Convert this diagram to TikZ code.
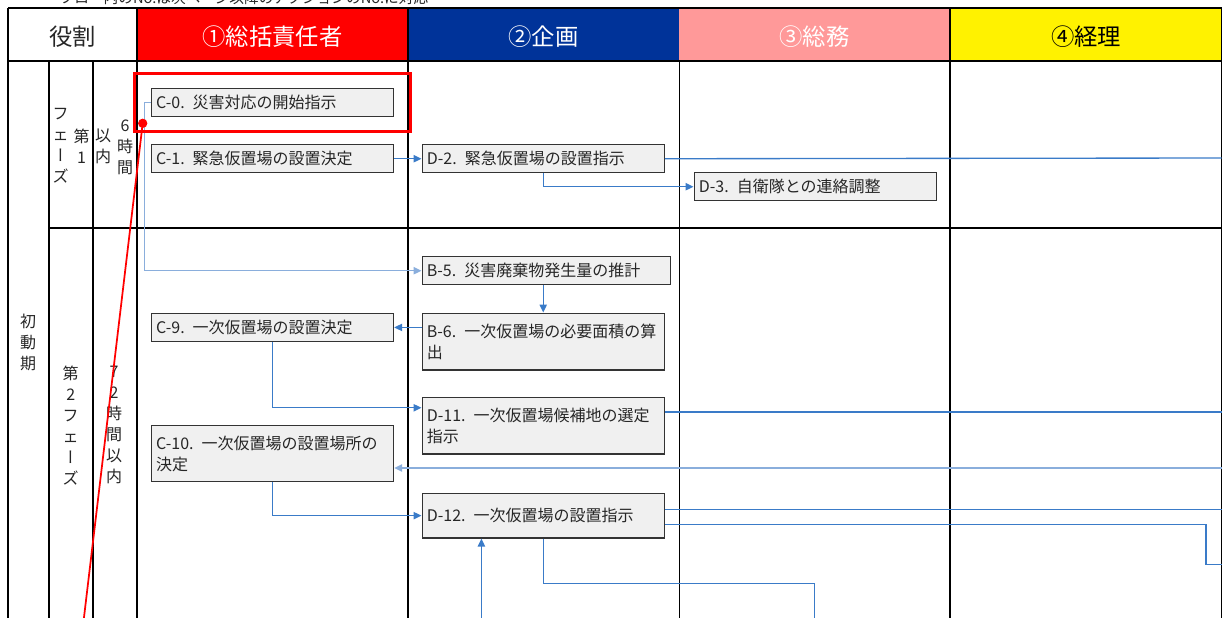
\documentclass[tikz,border=0pt]{standalone}
\usepackage{fontspec}
\setmainfont{Noto Sans CJK JP}
\newfontfamily\vjp[RawFeature=+vert]{Noto Sans CJK JP}
\usepackage{xcolor}
\usetikzlibrary{arrows.meta}
\usetikzlibrary{fit}
\definecolor{flowblue}{HTML}{3A7BC8}
\definecolor{paleblue}{HTML}{8AAEDC}
\definecolor{navy}{HTML}{003399}
\definecolor{salmon}{HTML}{FF9999}
\definecolor{boxgray}{HTML}{F0F0F0}
\definecolor{boxline}{HTML}{333333}

\begin{document}
\begin{tikzpicture}[x=0.75pt, y=-0.75pt,
    taskbox/.style={draw=boxline, fill=boxgray, line width=1.1pt, anchor=north west,
        inner xsep=3.5pt, inner ysep=0pt, text width=174.5pt, minimum height=21pt,
        align=left, text=black!85, font=\fontsize{12}{16}\selectfont},
    flowarrow/.style={draw=flowblue, line width=1pt, -{Triangle[length=6pt,width=5.5pt]}},
    feedline/.style={draw=flowblue, line width=1pt},
    tableline/.style={draw=black, line width=1.5pt},
    headtext/.style={font=\fontsize{17.5}{20}\selectfont},
    vstack/.style={align=center, inner sep=0pt, text=black!85,
        font=\fontsize{12}{15.75}\selectfont}]
    \useasboundingbox (0,0) rectangle (1223,617);
    \clip (0,0) rectangle (1223,617);

    % header row
    \fill [red] (137,8) rectangle (408,61);
    \fill [navy] (408,8) rectangle (679,61);
    \fill [salmon] (679,8) rectangle (950,61);
    \fill [yellow] (950,8) rectangle (1221.5,61);
    \path (55,-2) node [anchor=west, text=black!85, font=\fontsize{11}{13}\selectfont] (note)
	{フロー内のNo.は次ページ以降のアクションのNo.に対応};
    \path (72.5,36.5) node [headtext, text=black!85] (role) {役割};
    \path (272.5,36.5) node [headtext, white] (h1) {①総括責任者};
    \path (543.5,36.5) node [headtext, white] (h2) {②企画};
    \path (814.5,36.5) node [headtext, white] (h3) {③総務};
    \path (1086,36.5) node [headtext, black] (h4) {④経理};

    % table rules
    \draw [tableline] (8,8) -- (1221.5,8);
    \draw [tableline, line width=2pt] (8,61) -- (1221.5,61);
    \draw [tableline] (8,8) -- (8,640);
    \draw [tableline] (49,61) -- (49,640);
    \draw [tableline] (93,61) -- (93,640);
    \draw [tableline, line width=2.2pt] (137,8) -- (137,640);
    \draw [tableline, line width=2pt] (408,8) -- (408,640);
    \draw [tableline, line width=0.6pt] (679,61) -- (679,640);
    \draw [tableline] (950,8) -- (950,640);
    \draw [tableline, line width=1pt] (1221.5,8) -- (1221.5,640);
    \draw [tableline] (49,228) -- (1221.5,228);

    % phase labels
    \path (28,342) node [vstack] (init) {初\\動\\期};
    \path (81.5,146) node [vstack] (ph1a) {第\\1};
    \path (60.5,146) node [vstack] (ph1b) {フ\\ェ\\{\vjp ー}\\ズ};
    \path (125,147) node [vstack] (t1a) {6\\時\\間};
    \path (103,146) node [vstack] (t1b) {以\\内};
    \path (70.7,426) node [vstack] (ph2) {第\\2\\フ\\ェ\\{\vjp ー}\\ズ};
    \path (114,425) node [vstack] (t2) {7\\2\\時\\間\\以\\内};

    % tasks
    \path (150.7,87.7) node [taskbox] (c0) {C-0. 災害対応の開始指示};
    \path (150.7,144) node [taskbox] (c1) {C-1. 緊急仮置場の設置決定};
    \path (421.5,144) node [taskbox] (d2) {D-2. 緊急仮置場の設置指示};
    \path (693.5,172) node [taskbox] (d3) {D-3. 自衛隊との連絡調整};
    \path (421.5,256) node [taskbox, text width=179pt] (b5) {B-5. 災害廃棄物発生量の推計};
    \path (421.5,312.5) node [taskbox, minimum height=42.5pt] (b6)
	{B-6. 一次仮置場の必要面積の算\\出};
    \path (150.7,312.7) node [taskbox] (c9) {C-9. 一次仮置場の設置決定};
    \path (421.5,396.7) node [taskbox, minimum height=42.3pt] (d11)
	{D-11. 一次仮置場候補地の選定\\指示};
    \path (150.7,425) node [taskbox, minimum height=42pt] (c10)
	{C-10. 一次仮置場の設置場所の\\決定};
    \path (421.5,492.7) node [taskbox, minimum height=33.3pt] (d12) {D-12. 一次仮置場の設置指示};

    % loose ends at the table edge
    \coordinate (e1) at (1221.5,158);
    \coordinate (e2) at (1221.5,412);
    \coordinate (e3) at (1221.5,468);
    \coordinate (e4) at (1221.5,509.3);
    \coordinate (e5) at (1221.5,564.7);
    \coordinate (k5) at (1206,524.7);
    \coordinate (k6) at (814.7,583.3);
    \coordinate (s6) at (814.7,640);
    \coordinate (s7) at (481.4,640);

    % flow
    \draw [flowarrow, draw=paleblue] (c0.west) -- ++(-6,0) |- (b5.west);
    \draw [flowarrow] (c1.east) -- (d2.west);
    \draw [feedline] (d2.east) -- (e1);
    \draw [flowarrow] (d2.south) |- (d3.west);
    \draw [flowarrow] (b5.south -| b6.north) -- (b6.north);
    \draw [flowarrow] (b6.west |- c9.east) -- (c9.east);
    \draw [flowarrow] (c9.south) |- ([yshift=13.4pt]d11.west);
    \draw [feedline] (d11.east |- e2) -- (e2);
    \draw [flowarrow, draw=paleblue] (e3) -- (e3 -| c10.east);
    \draw [flowarrow] (c10.south) |- (d12.west);
    \draw [feedline] (d12.east |- e4) -- (e4);
    \draw [feedline] (d12.east |- k5) -- (k5) |- (e5);
    \draw [feedline] (d12.south) |- (k6) -- (s6);
    \draw [flowarrow] (s7) -- (s7 |- d12.south);

    % red mark
    \node [draw=red, line width=2.25pt, inner xsep=12pt, inner ysep=11pt, fit=(c0)] (mark) {};
    \path (142.7,123.3) node [circle, fill=red, inner sep=0pt, minimum size=7pt] (pin) {};
    \coordinate (tail) at (81.3,640);
    \draw [red, line width=1.3pt] (pin.center) -- (tail);
\end{tikzpicture}
\end{document}
